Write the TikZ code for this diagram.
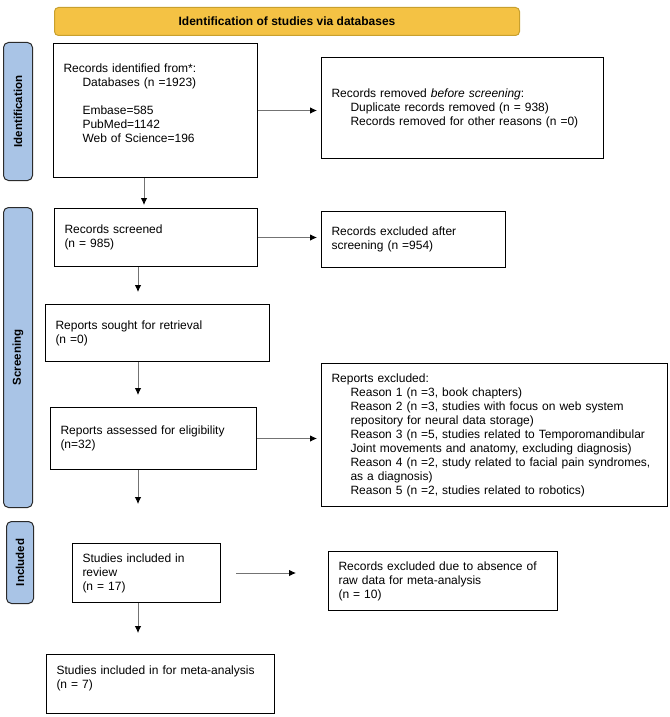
\documentclass[tikz,border=0pt]{standalone}
\usepackage{fontspec}
\setmainfont{Liberation Sans}
\usepackage{graphicx}
\usetikzlibrary{arrows.meta}
\definecolor{bannerfill}{HTML}{F4C244}
\definecolor{bannerline}{HTML}{C8A02E}
\definecolor{sidefill}{HTML}{A9C4E6}
\definecolor{sideline}{HTML}{2B2B2B}
\newcommand{\ind}[1]{\hspace*{19pt}\mbox{#1}}
\begin{document}
\begin{tikzpicture}[x=1pt,y=-1pt,
  box/.style={draw, line width=1pt, inner xsep=10pt, inner ysep=2pt, align=left,
    anchor=north west, font=\fontsize{12}{14}\selectfont},
  side/.style={draw=sideline, fill=sidefill, line width=1pt, rounded corners=5pt,
    anchor=north west, inner sep=0pt, font=\fontsize{11.5}{13}\selectfont\bfseries},
  banner/.style={draw=bannerline, fill=bannerfill, line width=1pt, rounded corners=4pt,
    anchor=north west, inner sep=0pt, font=\fontsize{12}{14}\selectfont\bfseries},
  arr/.style={draw=black!55, line width=0.8pt, -{Latex[length=7pt,width=6.5pt,color=black]}}]
  \fill[white] (0,0) rectangle (669,717);
  \useasboundingbox (0,0) rectangle (669,717);

  \node[banner, minimum width=465pt, minimum height=28pt] (head) at (54,7) {Identification of studies via databases};
  \node[side, minimum width=29pt, minimum height=138pt] (sideid) at (3,42) {\rotatebox{90}{Identification}};
  \node[side, minimum width=29pt, minimum height=300pt] (sidescr) at (3,207) {\rotatebox{90}{Screening}};
  \node[side, minimum width=27pt, minimum height=82pt] (sideinc) at (6,521) {\rotatebox{90}{Included}};

  % identification
  \node[box, text width=184pt, minimum height=134pt] (ident) at (53,43)
    {Records identified from*:\\ \ind{Databases (n =1923)}\\ \mbox{}\\ \ind{Embase=585}\\ \ind{PubMed=1142}\\ \ind{Web of Science=196}\\ \mbox{}};
  \node[box, text width=262pt, minimum height=101pt] (removed) at (321,57)
    {Records removed \textit{before screening}:\\ \ind{Duplicate records removed (n = 938)}\\ \ind{Records removed for other reasons (n =0)}};

  % screening
  \node[box, text width=183pt, minimum height=58pt] (screened) at (54,208) {Records screened\\ (n = 985)};
  \node[box, text width=164pt, minimum height=56pt] (excl) at (321,211) {Records excluded after\\ screening (n =954)};
  \node[box, text width=204pt, minimum height=57pt] (sought) at (45,304) {Reports sought for retrieval\\ (n =0)};
  \node[box, text width=186pt, minimum height=62pt] (assessed) at (50,407) {Reports assessed for eligibility\\ (n=32)};
  \node[box, text width=326pt, minimum height=143pt] (repexcl) at (321,363)
    {Reports excluded:\\
     \ind{Reason 1 (n =3, book chapters)}\\
     \ind{Reason 2 (n =3, studies with focus on web system}\\
     \ind{repository for neural data storage)}\\
     \ind{Reason 3 (n =5, studies related to Temporomandibular}\\
     \ind{Joint movements and anatomy, excluding diagnosis)}\\
     \ind{Reason 4 (n =2, study related to facial pain syndromes,}\\
     \ind{as a diagnosis)}\\
     \ind{Reason 5 (n =2, studies related to robotics)}};

  % included
  \node[box, text width=128pt, minimum height=59pt] (incl) at (72,543) {Studies included in\\ review\\ (n = 17)};
  \node[box, text width=209pt, minimum height=59pt] (nodata) at (328,551) {Records excluded due to absence of\\ raw data for meta-analysis\\ (n = 10)};
  \node[box, text width=208pt, minimum height=59pt] (meta) at (46,654) {Studies included in for meta-analysis\\ (n = 7)\\ \mbox{}};

  \coordinate (colA) at (144,0);
  \coordinate (colB) at (138,0);

  \draw[arr, shorten >=4pt] (ident.east) -- (ident.east -| removed.west);
  \draw[arr, shorten >=3pt] (ident.south -| colA) -- (screened.north -| colA);
  \draw[arr, shorten >=4pt] (screened.east) -- (screened.east -| excl.west);
  \draw[arr, shorten >=12pt] (screened.south -| colB) -- (sought.north -| colB);
  \draw[arr, shorten >=12pt] (sought.south -| colB) -- (assessed.north -| colB);
  \draw[arr, shorten >=4pt] (assessed.east) -- (assessed.east -| repexcl.west);
  \draw[arr, shorten >=39pt] (assessed.south -| colB) -- (incl.north -| colB);
  \draw[arr, shorten <=15pt, shorten >=32pt] (incl.east) -- (incl.east -| nodata.west);
  \draw[arr, shorten >=21pt] (incl.south -| colB) -- (meta.north -| colB);
\end{tikzpicture}
\end{document}
